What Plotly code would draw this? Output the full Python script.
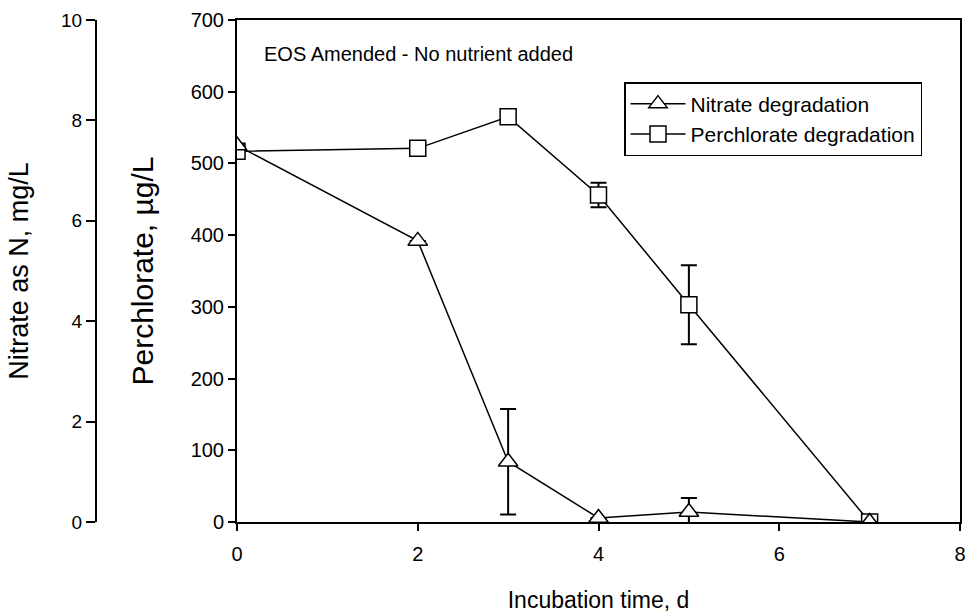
import plotly.graph_objects as go

days = [0, 2, 3, 4, 5, 7]
perchlorate = [517, 521, 565, 456, 303, 0]
perchlorate_err = [0, 0, 0, 17, 55, 0]
nitrate = [7.5, 5.6, 1.2, 0.08, 0.2, 0.0]
nitrate_err = [0, 0, 1.05, 0, 0.28, 0]

x_ticks = [0, 2, 4, 6, 8]
perc_ticks = [0, 100, 200, 300, 400, 500, 600, 700]
nit_ticks = [0, 2, 4, 6, 8, 10]

FONT = "Liberation Sans, Arial, sans-serif"
L, R, T, B = 20, 10, 20, 93
W, H = 970, 615
pw = W - L - R
x0 = (237 - L) / pw

fig = go.Figure()
fig.add_trace(go.Scatter(
    x=days, y=nitrate, yaxis="y2", name="Nitrate degradation",
    mode="lines+markers",
    line=dict(color="black", width=1.5),
    marker=dict(symbol="triangle-up", size=17, color="white",
                line=dict(color="black", width=1.5)),
    error_y=dict(type="data", array=nitrate_err, visible=True,
                 color="black", thickness=2, width=8),
))
fig.add_trace(go.Scatter(
    x=days, y=perchlorate, name="Perchlorate degradation",
    mode="lines+markers",
    line=dict(color="black", width=1.5),
    marker=dict(symbol="square", size=16, color="white",
                line=dict(color="black", width=1.5)),
    error_y=dict(type="data", array=perchlorate_err, visible=True,
                 color="black", thickness=2, width=8),
))

fig.update_layout(
    width=W, height=H,
    margin=dict(l=L, r=R, t=T, b=B, autoexpand=False),
    paper_bgcolor="white", plot_bgcolor="white",
    font=dict(family=FONT, color="black", size=20),
    showlegend=True,
    legend=dict(x=(624 - L) / pw, y=(H - B - 82) / (H - B - T),
                xanchor="left", yanchor="top",
                bgcolor="white", bordercolor="black", borderwidth=1.5,
                font=dict(size=21, family=FONT),
                itemwidth=55, tracegroupgap=0),
    xaxis=dict(domain=[x0, 1], range=[0, 8], tickvals=x_ticks, automargin=False,
               showgrid=False, zeroline=False, showline=True,
               linecolor="black", linewidth=2, mirror=True,
               ticks="outside", ticklen=7, tickwidth=1.5, tickcolor="black",
               tickfont=dict(size=20), ticklabelstandoff=6,
               title=dict(text="Incubation time, d", font=dict(size=23), standoff=28)),
    yaxis=dict(range=[0, 700], tickvals=perc_ticks, automargin=False,
               showgrid=False, zeroline=False, showline=True,
               linecolor="black", linewidth=2, mirror=True,
               ticks="outside", ticklen=7, tickwidth=1.5, tickcolor="black",
               tickfont=dict(size=20),
               title=dict(text="Perchlorate, µg/L", font=dict(size=30), standoff=28)),
    yaxis2=dict(range=[0, 10], tickvals=nit_ticks, overlaying="y", side="left",
                anchor="free", position=(96 - L) / pw, automargin=False,
                showgrid=False, zeroline=False, showline=True,
                linecolor="black", linewidth=2,
                ticks="outside", ticklen=9, tickwidth=1.5, tickcolor="black",
                tickfont=dict(size=19),
                title=dict(text="Nitrate as N, mg/L", font=dict(size=27), standoff=24)),
    annotations=[dict(text="EOS Amended - No nutrient added", xref="paper", yref="paper",
                      x=(262 - L) / pw, y=(H - B - 54) / (H - B - T),
                      xanchor="left", yanchor="middle", showarrow=False,
                      font=dict(size=20, family=FONT))],
)

fig.write_html("out.html")
